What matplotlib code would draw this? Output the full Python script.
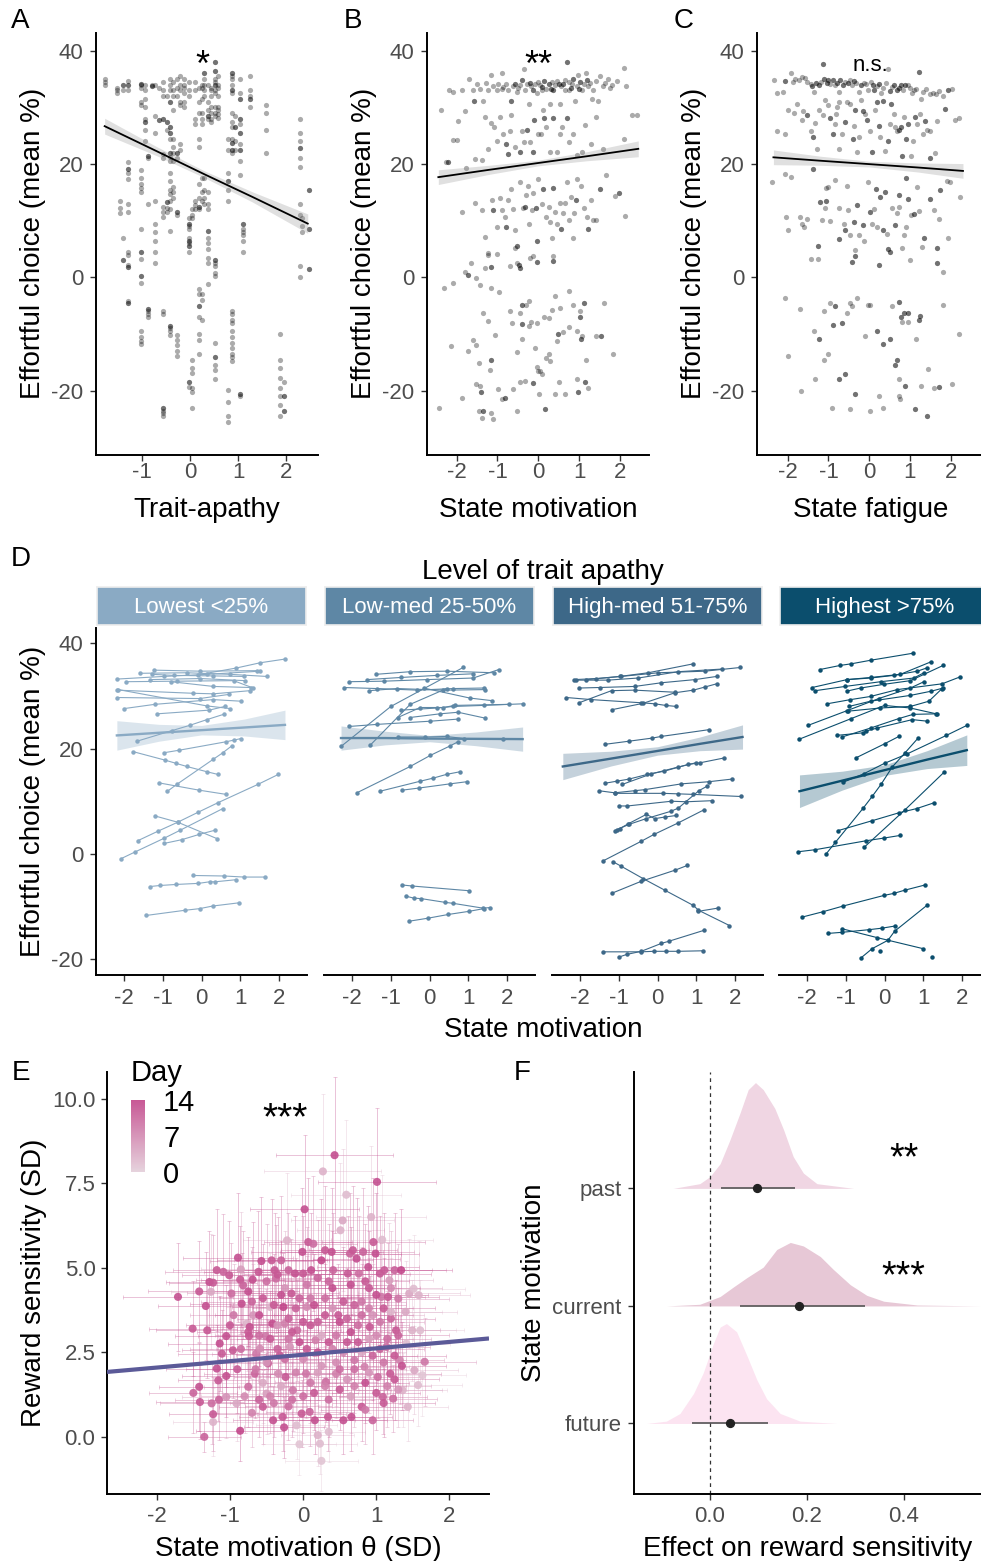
import matplotlib
matplotlib.use("Agg")
import matplotlib.pyplot as plt
import numpy as np
from matplotlib.colors import LinearSegmentedColormap

plt.rcParams['font.family'] = ['Liberation Sans', 'DejaVu Sans']
plt.rcParams['axes.unicode_minus'] = False

# ---------------- data ----------------
# A: effortful choice per participant column (trait apathy is fixed per person)
a_trait = [-1.78, -1.52, -1.45, -1.39, -1.29, -1.02, -0.93, -0.87, -0.80, -0.73, -0.64, -0.56, -0.49,
           -0.42, -0.35, -0.27, -0.21, -0.13, -0.03, 0.03, 0.10, 0.18, 0.24, 0.29, 0.38, 0.44, 0.52,
           0.59, 0.78, 0.87, 0.94, 1.03, 1.10, 1.24, 1.58, 1.88, 1.96, 2.29, 2.34, 2.48]
a_choice = [
    [35, 34.5, 34],
    [33.5, 33, 32.5],
    [13.5, 12.3, 11.3],
    [34, 34, 33, 7.0, 3.0, 3.0],
    [34.7, 34, 34, 33, 20.3, 19.2, 19.2, 18.4, 17.4, 13, 11.5, 4.5, 3.9, 2.2, 1.8, 1.8, -4.2, -4.5, -4.5],
    [34.2, 34.2, 34, 33.5, 31, 30.5, 19, 17.5, 16.5, 15.8, 15, 8.5, 4.4, 4.4, 3.3, 0.3, 0.3, -1.0,
     -9.5, -10.5, -11.3, -11.8],
    [34, 33, 31.5, 30, 28, 27.5, 27.5, 26, 24],
    [21.5, 21.5, 21, 13, -5.5, -5.5, -6, -6.5, -7],
    [34, 33.8, 33.8],
    [34, 28.5, 25.5, 13.5, 9.5, 8, 6.5, 4.5, 2.5],
    [33.5, 27.8, 27.8],
    [34.5, 33, 32, 28, 28, 21.8, 21, 12.5, 11.5, 10.7, -6, -6.5, -23, -23, -23.5, -24, -24.5],
    [32, 27.5, 27.5, 26, 13.3, 13.3, 12.3, 11.5],
    [35, 34, 33, 31, 31, 26.5, 26.5, 25.5, 25.5, 24.5, 22, 22, 21.2, 20.5, 18.5, 17, 15.5, 14.8,
     13.5, 12, 8.2, -8.5, -8.5, -9, -9.5, -10.2],
    [34.5, 33, 32, 29.5, 24.5, 23, 22, 20.5, 16, 15, 14],
    [35, 33.5, 32, 22, 22, 21, 11.5, 11.5, 11, -10.2, -11, -12, -13, -13.8],
    [35.5, 34, 33, 31, 30.5, 23.5, 22.5],
    [35, 34, 33.5, 32.5, 31, 30],
    [34.5, 33, 32, 10.5, 9.5, 9.5, 9, 8.5, 7, 6.5, 6.5, 6, 5.5, 5.5, 4.5, -18.5, -18.5, -19.4],
    [12, 11, 10.5, -14.5, -16, -16.8, -19.5, -20.3, -23],
    [34.5, 33, 28, 27, 13.5, 12.7, 12],
    [33.5, 31, 29, 24.5, 23, 16.5, 14, 12.5, 12.5, 12, -2, -3, -5, -5, -7, -10, -11, -13.5],
    [34, 33.5, 31.5, 29, 28, 27, 17.5, 15, 13.5, -3, -4, -7.5],
    [36, 36, 35, 34, 33, 32, 17.5, 15.5, 14, 13],
    [34, 31, 29.5, 28.5, 28.5, 28, 15, 13, 12, 8.2, 8.2, 7, 6, 5, 3.5, 2.5, -1.2],
    [33.5, 33, 32, 30, 29, 28, 27.5],
    [38, 38, 36.5, 36.5, 35, 34.5, 34, 34, 33, 32.5, 30, 29, 28.5, 3, 3, 2.5, 2, 0.8, 0.2, -11.5,
     -14, -14, -15.5, -16.3, -18],
    [35.5, 34, 33.5, 32, 30, 29.5, 28.8, 28.2],
    [24.5, 22.5, 18.5, 17, 17, 15.5, 13.5, -19.8, -22, -24.5, -25.5],
    [36, 36, 35.5, 35, 34, 33, 33, 32.5, 29, 27.5, 26.5, 24.5, 23.8, 23.8, 22.5, 22.5, 22, -6, -6.5,
     -7.5, -8, -9.5, -10.5, -11.5, -12.5, -13.5, -14, -14.8],
    [28.5, 26.5, 26.5, 24, 22.5],
    [35, 32.5, 31.5, 31.5, 28, 28, 27, 25.5, 25.5, 23.5, 22.5, 22.5, 20.5, 18, -20.5, -20.5, -21],
    [9.5, 9.5, 8.5, 8, 7.5, 6.5, 4.5],
    [35.5, 33, 32, 31.5, 31.5, 30],
    [30.5, 29, 26, 22],
    [-10, -14.5, -16, -17.8, -19.5, -21, -22.5, -24.5],
    [-18.5, -21, -21, -23.5, -23.5],
    [28, 25.5, 24, 22.8, 22.8, 21, 19.5, 13, 11, 2, 0],
    [10.5, 9, 8],
    [15.5, 15.5, 8.5, 8.5, 1.5, 1.5],
]

# B: (state motivation, effortful choice, overlapping obs)
b_points = [
    (-2.38, 29.6, 1), (-2.19, 33.0, 1), (-2.10, 32.7, 1), (-1.98, 27.6, 1), (-1.86, 33.0, 1),
    (-1.79, 29.4, 1), (-1.70, 35.1, 1), (-1.60, 33.0, 1), (-1.57, 31.1, 2), (-1.50, 34.1, 1),
    (-1.43, 33.2, 1), (-1.35, 31.1, 1), (-1.27, 34.4, 1), (-1.23, 33.0, 1), (-1.15, 35.7, 1),
    (-1.11, 33.8, 1), (-1.02, 33.0, 1), (-0.98, 34.1, 1), (-0.90, 36.1, 1), (-0.86, 33.7, 1),
    (-0.78, 34.1, 1), (-0.74, 33.0, 1), (-0.66, 31.1, 2), (-0.61, 33.8, 1), (-0.57, 34.1, 2),
    (-0.53, 32.7, 1), (-0.45, 33.9, 1), (-0.41, 34.9, 2), (-0.35, 36.8, 1), (-0.33, 33.0, 1),
    (-0.27, 34.1, 1), (-0.22, 30.7, 1), (-0.19, 33.8, 1), (-0.12, 33.0, 2), (-0.08, 34.1, 1),
    (-0.02, 32.6, 1), (0.00, 34.5, 1), (0.04, 33.9, 1), (0.08, 33.0, 1), (0.14, 34.6, 2),
    (0.19, 33.3, 1), (0.25, 34.1, 2), (0.29, 30.7, 1), (0.33, 34.5, 1), (0.37, 33.0, 2),
    (0.41, 33.9, 1), (0.47, 34.6, 1), (0.52, 30.7, 1), (0.55, 33.8, 1), (0.61, 34.1, 2),
    (0.66, 33.0, 1), (0.70, 38.0, 2), (0.74, 34.5, 1), (0.76, 33.0, 1), (0.82, 34.1, 1),
    (0.86, 35.0, 2), (0.90, 31.1, 1), (0.94, 33.8, 1), (0.98, 35.8, 1), (1.02, 34.5, 2),
    (1.06, 33.0, 1), (1.11, 34.1, 1), (1.17, 36.1, 1), (1.23, 33.8, 1), (1.27, 34.4, 1),
    (1.31, 31.5, 1), (1.35, 33.0, 1), (1.42, 34.6, 1), (1.47, 31.1, 1), (1.52, 35.5, 1),
    (1.58, 33.8, 1), (1.64, 34.3, 1), (1.70, 35.0, 1), (1.76, 33.5, 1), (1.80, 33.9, 1),
    (1.92, 34.6, 1), (2.10, 36.9, 1), (2.15, 33.8, 1), (2.42, 28.6, 1),
    (-0.20, 34.3, 2), (0.10, 33.6, 2), (0.50, 34.2, 2), (0.80, 33.5, 2), (1.00, 33.2, 2),
    (-0.50, 33.4, 1), (-0.90, 33.2, 1), (1.20, 34.8, 2), (0.30, 33.3, 2), (0.65, 34.8, 1),
    (-2.21, 20.4, 2), (-2.10, 24.2, 1), (-1.99, 24.3, 1), (-1.76, 19.4, 1), (-1.56, 20.9, 1),
    (-1.39, 20.7, 1), (-1.31, 28.3, 1), (-1.23, 22.7, 1), (-1.16, 27.2, 1), (-1.08, 26.6, 1),
    (-1.01, 24.1, 1), (-0.94, 28.3, 1), (-0.86, 25.4, 1), (-0.78, 23.5, 2), (-0.74, 21.7, 2),
    (-0.70, 25.9, 1), (-0.66, 28.6, 1), (-0.57, 23.0, 1), (-0.45, 22.1, 2), (-0.41, 25.8, 1),
    (-0.35, 23.9, 1), (-0.27, 26.1, 2), (-0.20, 23.9, 1), (-0.14, 22.2, 2), (-0.11, 27.8, 2),
    (0.00, 25.4, 1), (0.06, 25.4, 1), (0.11, 29.5, 1), (0.14, 28.1, 2), (0.20, 26.5, 1),
    (0.29, 22.2, 1), (0.37, 28.1, 2), (0.45, 22.2, 1), (0.52, 25.4, 1), (0.57, 26.5, 1),
    (0.70, 28.1, 2), (0.74, 23.9, 1), (0.86, 25.3, 1), (0.94, 21.6, 1), (1.06, 22.2, 1),
    (1.15, 26.9, 1), (1.29, 23.6, 1), (1.42, 28.3, 1), (1.58, 22.6, 1), (2.09, 24.4, 1),
    (2.29, 28.6, 1),
    (-2.27, 20.3, 1), (-1.88, 11.5, 1), (-1.54, 13.2, 1), (-1.39, 11.9, 1), (-1.31, 7.2, 1),
    (-1.23, 4.3, 1), (-1.13, 13.7, 1), (-1.11, 11.9, 2), (-1.02, 8.9, 1), (-0.94, 14.0, 1),
    (-0.90, 11.9, 1), (-0.82, 10.7, 1), (-0.78, 8.9, 2), (-0.74, 13.6, 1), (-0.66, 15.6, 1),
    (-0.61, 12.0, 1), (-0.57, 8.4, 1), (-0.53, 5.5, 2), (-0.45, 16.8, 1), (-0.37, 12.3, 1),
    (-0.33, 12.5, 2), (-0.29, 14.5, 1), (-0.25, 16.2, 1), (-0.22, 9.5, 1), (-0.16, 11.9, 1),
    (-0.12, 14.9, 1), (-0.06, 12.3, 2), (-0.04, 6.4, 2), (0.00, 17.4, 1), (0.08, 13.0, 1),
    (0.12, 15.6, 2), (0.19, 10.7, 1), (0.25, 12.5, 1), (0.29, 9.8, 1), (0.33, 7.0, 1),
    (0.37, 15.7, 2), (0.41, 11.6, 1), (0.47, 9.5, 1), (0.52, 13.1, 1), (0.55, 8.6, 2),
    (0.60, 11.3, 1), (0.66, 13.1, 1), (0.70, 16.8, 1), (0.74, 10.1, 1), (0.79, 14.2, 1),
    (0.84, 7.0, 1), (0.88, 11.3, 1), (0.93, 13.7, 2), (0.96, 17.4, 1), (1.04, 16.2, 1),
    (1.11, 12.2, 1), (1.19, 10.7, 1), (1.23, 8.6, 2), (1.29, 13.6, 1), (1.35, 10.1, 1),
    (1.42, 10.1, 1), (1.50, 15.6, 2), (1.66, 18.1, 1), (1.88, 14.3, 1), (1.97, 14.9, 2),
    (2.13, 10.8, 1),
    (-2.32, -1.8, 1), (-2.10, -1.0, 1), (-1.80, 0.9, 1), (-1.72, 0.4, 2), (-1.64, 2.5, 1),
    (-1.52, -0.1, 1), (-1.43, -1.3, 1), (-1.31, 1.6, 1), (-1.23, 4.0, 1), (-1.17, 1.9, 2),
    (-1.15, -1.8, 1), (-1.02, 4.1, 1), (-0.97, -2.6, 1), (-0.70, 2.1, 1), (-0.57, 5.2, 1),
    (-0.51, 2.6, 1), (-0.47, 2.2, 2), (-0.45, 1.6, 2), (-0.20, 3.5, 1), (-0.12, 3.7, 1),
    (-0.04, 2.8, 2), (0.37, 2.9, 2), (0.37, 3.7, 1),
    (-2.44, -23.0, 1), (-2.15, -12.1, 1), (-1.88, -21.2, 1), (-1.60, -11.1, 1), (-1.52, -11.9, 1),
    (-1.45, -15.1, 1), (-1.45, -23.6, 1), (-1.43, -19.1, 1), (-1.40, -20.3, 2), (-1.38, -24.8, 1),
    (-1.35, -6.3, 1), (-1.35, -23.6, 2), (-1.23, -7.7, 1), (-1.17, -14.5, 2), (-1.17, -23.9, 1),
    (-1.12, -25.0, 1), (-1.06, -10.1, 1), (-0.98, -19.7, 1), (-0.90, -21.5, 1), (-0.82, -21.2, 2),
    (-0.70, -6.0, 1), (-0.64, -8.1, 1), (-0.61, -19.7, 1), (-0.53, -13.1, 1), (-0.53, -23.6, 1),
    (-0.45, -6.2, 1), (-0.45, -18.5, 1), (-0.41, -4.8, 2), (-0.41, -8.3, 2), (-0.41, -10.9, 1),
    (-0.33, -18.2, 1), (-0.29, -4.8, 1), (-0.22, -4.2, 1), (-0.22, -8.6, 1), (-0.18, -7.8, 1),
    (-0.12, -18.6, 2), (-0.08, -12.5, 1), (-0.04, -8.0, 1), (-0.02, -15.9, 1), (0.00, -16.5, 1),
    (0.02, -20.6, 1), (0.04, -16.6, 1), (0.08, -17.0, 1), (0.14, -7.0, 1), (0.16, -23.2, 2),
    (0.20, -14.2, 1), (0.25, -7.2, 1), (0.27, -13.6, 1), (0.29, -14.8, 1), (0.33, -5.7, 1),
    (0.41, -20.6, 1), (0.41, -3.3, 1), (0.47, -11.2, 1), (0.49, -10.0, 2), (0.50, -18.5, 1),
    (0.53, -5.4, 1), (0.61, -9.7, 1), (0.66, -20.6, 1), (0.74, -8.7, 1), (0.76, -2.4, 1),
    (0.86, -4.8, 1), (0.94, -9.4, 1), (0.96, -17.9, 1), (0.98, -20.3, 2), (1.01, -6.0, 1),
    (1.02, -7.0, 2), (1.04, -10.9, 2), (1.06, -10.3, 1), (1.11, -4.5, 2), (1.15, -18.5, 2),
    (1.17, -14.5, 1), (1.23, -19.6, 1), (1.42, -10.3, 1), (1.53, -10.3, 2), (1.61, -4.5, 1),
    (1.83, -13.6, 1), (-1.72, -13.0, 1), (-1.52, -18.8, 1), (-1.19, -16.3, 1),
]

# C: (state fatigue, effortful choice, overlapping obs)
c_points = [
    (-2.33, 34.8, 1), (-2.26, 32.6, 1), (-2.11, 32.7, 1), (-2.06, 34.6, 2), (-1.93, 36.1, 1),
    (-1.87, 34.5, 1), (-1.81, 35.1, 1), (-1.73, 34.9, 1), (-1.65, 35.4, 1), (-1.58, 35.2, 1),
    (-1.53, 34.5, 1), (-1.44, 34.1, 1), (-1.40, 33.8, 2), (-1.36, 32.8, 1), (-1.31, 34.4, 2),
    (-1.24, 34.0, 2), (-1.18, 34.5, 1), (-1.13, 37.7, 2), (-1.10, 35.1, 2), (-1.04, 34.4, 2),
    (-1.00, 34.9, 2), (-0.96, 34.1, 1), (-0.89, 34.8, 2), (-0.83, 33.9, 1), (-0.79, 34.4, 2),
    (-0.75, 32.8, 1), (-0.71, 34.9, 2), (-0.64, 34.0, 2), (-0.59, 34.5, 1), (-0.53, 34.4, 2),
    (-0.48, 34.9, 1), (-0.42, 34.0, 1), (-0.37, 34.6, 2), (-0.32, 34.4, 1), (-0.26, 32.7, 1),
    (-0.20, 33.9, 2), (-0.14, 34.4, 1), (-0.07, 34.1, 1), (-0.02, 33.0, 1), (0.04, 34.5, 1),
    (0.09, 33.9, 2), (0.12, 33.0, 2), (0.19, 33.8, 1), (0.25, 34.1, 2), (0.29, 32.6, 1),
    (0.35, 33.4, 1), (0.42, 34.4, 1), (0.45, 36.8, 1), (0.50, 32.9, 2), (0.56, 33.7, 1),
    (0.61, 34.0, 2), (0.68, 33.0, 2), (0.72, 33.4, 2), (0.78, 33.9, 2), (0.84, 33.0, 1),
    (0.88, 33.9, 2), (0.94, 34.0, 1), (1.00, 33.4, 1), (1.06, 32.6, 1), (1.09, 33.0, 1),
    (1.15, 33.3, 1), (1.23, 36.2, 2), (1.27, 31.5, 1), (1.33, 32.7, 1), (1.40, 33.3, 1),
    (1.48, 32.4, 1), (1.56, 32.6, 1), (1.64, 32.4, 1), (1.70, 32.9, 1), (1.82, 32.0, 1),
    (1.94, 33.0, 2), (2.02, 33.3, 1),
    (-2.26, 25.8, 1), (-2.06, 25.3, 1), (-2.00, 29.5, 1), (-1.84, 29.0, 1), (-1.77, 30.7, 1),
    (-1.65, 27.8, 1), (-1.62, 29.4, 1), (-1.53, 28.7, 2), (-1.44, 25.9, 1), (-1.38, 24.8, 2),
    (-1.34, 27.2, 1), (-1.28, 22.6, 1), (-1.22, 29.6, 1), (-1.13, 28.6, 1), (-1.08, 31.3, 1),
    (-1.02, 30.4, 1), (-0.96, 28.2, 2), (-0.89, 25.3, 2), (-0.85, 27.1, 1), (-0.82, 28.9, 1),
    (-0.79, 30.1, 1), (-0.75, 31.0, 1), (-0.73, 22.6, 1), (-0.67, 25.3, 1), (-0.59, 27.5, 2),
    (-0.55, 30.9, 1), (-0.47, 30.6, 1), (-0.40, 24.5, 2), (-0.37, 26.7, 1), (-0.34, 29.5, 2),
    (-0.30, 22.2, 1), (-0.24, 24.7, 1), (-0.20, 31.3, 1), (-0.16, 29.4, 2), (-0.10, 28.9, 1),
    (-0.06, 27.8, 2), (0.02, 25.9, 1), (0.07, 22.1, 2), (0.15, 29.5, 1), (0.19, 31.0, 2),
    (0.23, 26.7, 2), (0.27, 24.7, 1), (0.33, 31.1, 2), (0.39, 22.4, 1), (0.47, 24.1, 2),
    (0.50, 27.1, 1), (0.53, 30.7, 2), (0.60, 28.8, 1), (0.64, 26.5, 1), (0.69, 25.9, 1),
    (0.74, 26.0, 2), (0.78, 26.5, 2), (0.80, 21.5, 2), (0.86, 28.3, 1), (0.91, 24.5, 2),
    (0.96, 27.1, 2), (1.02, 21.4, 1), (1.07, 24.1, 1), (1.13, 28.3, 2), (1.17, 27.0, 1),
    (1.25, 28.8, 1), (1.31, 25.3, 1), (1.36, 27.7, 2), (1.41, 26.0, 1), (1.48, 21.1, 2),
    (1.49, 25.9, 1), (1.62, 21.9, 1), (1.66, 27.7, 1), (1.86, 29.8, 2), (2.11, 27.8, 1),
    (2.19, 28.2, 1), (1.90, 17.0, 1),
    (-2.38, 16.9, 1), (-2.06, 18.3, 1), (-2.03, 10.7, 1), (-1.98, 8.3, 1), (-1.93, 17.7, 1),
    (-1.69, 10.7, 1), (-1.65, 9.5, 1), (-1.61, 8.9, 1), (-1.53, 10.4, 1), (-1.43, 3.3, 1),
    (-1.38, 19.2, 2), (-1.26, 3.3, 1), (-1.26, 5.5, 2), (-1.20, 13.4, 2), (-1.16, 10.1, 1),
    (-1.09, 12.3, 1), (-1.06, 13.5, 2), (-1.05, 15.7, 1), (-1.00, 15.9, 1), (-0.96, 10.0, 1),
    (-0.83, 17.2, 1), (-0.75, 12.2, 1), (-0.73, 6.7, 2), (-0.63, 9.5, 1), (-0.60, 8.4, 2),
    (-0.55, 16.2, 1), (-0.51, 11.9, 1), (-0.47, 7.4, 1), (-0.42, 2.7, 2), (-0.37, 9.8, 2),
    (-0.34, 3.7, 2), (-0.34, 4.9, 1), (-0.30, 12.8, 2), (-0.24, 7.4, 1), (-0.16, 9.3, 2),
    (-0.14, 6.4, 1), (-0.02, 16.8, 1), (0.02, 11.6, 2), (0.07, 9.5, 1), (0.12, 12.0, 1),
    (0.17, 15.6, 2), (0.19, 8.9, 1), (0.23, 2.2, 2), (0.27, 14.2, 2), (0.33, 8.4, 2),
    (0.39, 15.1, 2), (0.43, 7.7, 1), (0.47, 5.1, 2), (0.51, 4.5, 2), (0.56, 12.2, 1),
    (0.64, 9.2, 2), (0.68, 11.3, 1), (0.72, 14.6, 2), (0.74, 12.5, 1), (0.80, 5.2, 1),
    (0.86, 7.4, 1), (0.91, 17.6, 2), (0.91, 8.9, 1), (0.96, 13.9, 2), (1.00, 3.1, 1),
    (1.03, 11.0, 1), (1.11, 11.2, 2), (1.17, 15.9, 1), (1.23, 11.8, 1), (1.29, 5.3, 1),
    (1.35, 7.0, 2), (1.48, 13.9, 2), (1.66, 5.2, 2), (1.67, 2.5, 2), (1.70, 10.3, 1),
    (1.74, 15.4, 2), (1.82, 1.0, 1), (1.98, 16.8, 1), (2.23, 14.2, 1), (1.58, 11.9, 1),
    (1.94, 7.0, 1),
    (-2.06, -3.6, 1), (-1.98, -13.9, 1), (-1.71, -5.6, 1), (-1.67, -20.0, 1), (-1.36, -9.5, 1),
    (-1.32, -17.9, 1), (-1.24, -10.9, 2), (-1.12, -14.5, 1), (-1.12, -6.0, 1), (-1.02, -13.6, 1),
    (-0.96, -4.5, 1), (-0.91, -23.1, 1), (-0.89, -8.4, 2), (-0.83, -5.0, 2), (-0.75, -17.9, 2),
    (-0.67, -8.1, 2), (-0.60, -17.1, 2), (-0.55, -6.2, 1), (-0.48, -4.6, 1), (-0.47, -23.3, 1),
    (-0.42, -5.0, 1), (-0.34, -20.6, 2), (-0.29, -3.6, 1), (-0.10, -10.3, 1), (0.02, -4.8, 1),
    (0.02, -23.6, 1), (0.20, -9.4, 2), (0.23, -20.9, 1), (0.35, -23.0, 1), (0.33, -11.8, 2),
    (0.51, -10.8, 2), (0.56, -5.1, 1), (0.64, -15.4, 2), (0.68, -14.5, 2), (0.72, -17.9, 1),
    (0.72, -20.9, 1), (0.76, -21.5, 1), (0.78, -7.0, 2), (0.74, -4.4, 2), (0.80, -7.8, 1),
    (0.86, -6.2, 2), (0.88, -19.1, 2), (0.94, -7.8, 1), (0.96, -6.3, 2), (1.13, -23.3, 2),
    (1.15, -10.9, 1), (1.21, -7.5, 2), (1.25, -6.8, 2), (1.27, -19.1, 1), (1.41, -24.5, 2),
    (1.45, -16.2, 1), (1.58, -19.6, 1), (1.70, -19.4, 2), (1.82, -4.8, 1), (2.02, -18.8, 1),
    (2.21, -10.0, 1), (-0.04, -4.8, 1),
]

# regression lines with confidence band (x, fitted y, half width)
a_fit = ([-1.78, -0.7, 0.3, 1.3, 2.45], [26.7, 22.3, 18.2, 14.2, 9.5], [1.4, 0.8, 0.6, 0.9, 1.7])
b_fit = ([-2.45, -1.2, 0.0, 1.2, 2.45], [17.7, 19.0, 20.2, 21.4, 22.7], [1.3, 0.8, 0.5, 0.8, 1.4])
c_fit = ([-2.35, -1.2, 0.0, 1.2, 2.3], [21.2, 20.6, 20.0, 19.4, 18.8], [1.3, 0.8, 0.5, 0.8, 1.3])

# D: per-participant (state motivation, effortful choice) by trait-apathy group
d_labels = ['Lowest <25%', 'Low-med 25-50%', 'High-med 51-75%', 'Highest >75%']
d_colors = ['#8AAAC4', '#5E87A5', '#3D6888', '#0B4E6D']
d_lowest = [
    [(-0.10, 34.0), (0.90, 35.3), (1.52, 36.3), (2.16, 37.0)],
    [(-2.19, 33.2), (-0.98, 33.7), (0.14, 34.1), (1.52, 34.7)],
    [(-1.58, 34.3), (-0.38, 34.4), (0.74, 34.1), (1.69, 33.7)],
    [(-1.24, 34.9), (-0.03, 34.7), (1.43, 34.8)],
    [(-1.95, 32.7), (-0.64, 32.8), (0.83, 32.9), (1.34, 31.5)],
    [(-2.19, 31.1), (-0.21, 30.5), (0.31, 30.4), (1.26, 31.0)],
    [(-2.19, 29.7), (-0.05, 29.5), (0.72, 30.3)],
    [(-2.15, 31.2), (0.14, 28.1), (0.74, 27.6)],
    [(-2.00, 27.6), (-1.21, 28.4), (0.30, 29.3), (1.02, 29.0)],
    [(-1.67, 21.4), (-0.77, 23.4), (-0.31, 24.4), (0.14, 25.5), (0.57, 26.5)],
    [(-1.15, 26.6), (0.20, 27.3), (0.60, 28.0)],
    [(-0.98, 19.2), (-0.57, 19.7), (0.64, 21.3), (0.83, 21.6), (1.02, 21.9)],
    [(-1.76, 19.4), (-0.94, 17.8), (-0.66, 17.2), (-0.38, 16.6), (0.14, 15.6), (0.42, 15.1)],
    [(-0.88, 11.9), (-0.64, 13.2), (0.31, 18.0), (0.55, 19.2), (0.78, 20.5)],
    [(-1.11, 13.5), (-0.06, 12.1), (0.64, 11.3)],
    [(-1.20, 7.2), (-0.61, 6.0), (0.40, 2.9)],
    [(-0.96, 2.0), (-0.51, 2.7), (-0.06, 3.7), (0.35, 4.5)],
    [(-2.08, -0.9), (-1.71, 0.4), (-0.96, 3.0), (-0.55, 4.5), (0.55, 8.6)],
    [(-1.65, 2.5), (-1.13, 4.3), (-0.62, 6.0), (-0.09, 7.9), (0.42, 9.7), (1.46, 13.2), (1.99, 15.1)],
    [(-0.21, -4.1), (0.59, -4.2), (1.10, -4.4), (1.64, -4.4)],
    [(-1.34, -6.2), (-1.07, -6.0), (-0.65, -5.8), (-0.08, -5.6), (0.21, -5.3), (0.35, -5.3), (0.90, -4.9)],
    [(-1.44, -11.7), (-0.42, -10.7), (-0.05, -10.4), (0.29, -9.9), (0.96, -9.3)],
    [(-1.28, 34.1), (-0.72, 33.9), (0.31, 33.8), (1.09, 33.7)],
    [(-1.33, 33.1), (-0.03, 33.3), (1.13, 32.9)],
    [(-0.79, 32.7), (0.31, 31.8), (1.27, 31.6)],
]
d_lowmed = [
    [(-2.29, 20.4), (-1.00, 28.0), (0.87, 35.4)],
    [(-1.54, 20.6), (-0.50, 28.4), (0.44, 31.4)],
    [(-2.08, 32.7), (-1.18, 32.8), (-0.07, 33.1), (1.13, 33.4), (1.79, 35.0)],
    [(-2.22, 31.6), (-1.35, 31.4), (-0.32, 31.1), (0.62, 31.4), (1.40, 31.5)],
    [(-1.56, 31.0), (-0.84, 31.4), (0.36, 31.1), (1.43, 31.2)],
    [(-1.39, 34.1), (-0.50, 34.6), (0.44, 34.7), (1.66, 34.4)],
    [(-1.61, 33.1), (-0.75, 33.5), (0.19, 33.9), (1.13, 34.2)],
    [(-0.15, 31.5), (1.04, 29.6), (1.62, 29.1)],
    [(-0.74, 27.3), (0.19, 27.7), (0.62, 28.0), (1.40, 28.2), (2.41, 28.5)],
    [(-0.82, 25.9), (-0.24, 27.8), (0.36, 27.8), (0.65, 28.2), (2.05, 28.4)],
    [(-0.51, 25.9), (0.27, 26.6), (0.74, 26.9), (1.43, 25.8)],
    [(-2.08, 24.2), (-1.35, 24.6), (0.02, 25.2), (0.74, 25.6)],
    [(-0.82, 22.2), (-0.11, 22.2), (0.44, 22.3), (0.89, 21.9), (1.91, 21.9)],
    [(-1.88, 11.6), (-0.50, 16.6), (0.02, 18.7), (0.53, 20.5), (0.74, 21.3)],
    [(-1.28, 11.9), (-0.24, 13.8), (0.10, 14.4), (0.44, 15.1), (0.79, 15.6)],
    [(-0.71, 12.1), (-0.28, 12.5), (0.53, 13.3), (0.96, 13.7)],
    [(-0.71, -5.9), (-0.45, -6.1), (1.03, -7.0)],
    [(-0.62, -8.0), (-0.41, -8.4), (-0.21, -8.5), (0.40, -9.2), (0.62, -9.4), (1.38, -10.3), (1.56, -10.2)],
    [(-0.54, -12.8), (-0.03, -12.2), (0.49, -11.5), (1.03, -10.9), (1.40, -10.4)],
]
d_highmed = [
    [(-2.15, 33.1), (-1.58, 33.3), (-0.98, 33.7), (-0.24, 34.4), (0.93, 36.1)],
    [(-2.10, 33.0), (-1.28, 33.0), (-0.50, 33.4), (0.54, 34.6), (1.66, 35.1)],
    [(-2.02, 31.5), (-1.50, 31.6), (-0.59, 31.8), (0.10, 32.5), (0.97, 33.1), (1.53, 33.7)],
    [(-2.36, 29.7), (-1.71, 29.3), (-0.42, 28.7), (-0.07, 28.5), (0.21, 28.2), (0.49, 28.0)],
    [(-1.17, 27.4), (-0.37, 28.6), (0.45, 30.6), (0.93, 31.1), (1.23, 31.7), (1.53, 32.3)],
    [(-2.03, 28.7), (-1.19, 31.0), (-0.59, 31.1), (0.45, 30.7)],
    [(-1.84, 33.1), (-0.94, 33.7), (0.02, 34.4), (1.23, 34.7), (2.14, 35.4)],
    [(-1.37, 20.8), (-0.74, 21.4), (-0.13, 22.0), (0.09, 22.3), (1.34, 23.6)],
    [(-1.37, 13.4), (-1.06, 13.8), (-0.74, 14.2), (-0.26, 15.1), (0.17, 15.7), (0.80, 17.0), (1.10, 17.3), (1.71, 18.2)],
    [(-0.91, 13.2), (-0.16, 15.2), (0.54, 16.5), (0.99, 17.3)],
    [(-1.52, 12.0), (-1.11, 11.6), (-0.59, 12.0), (-0.33, 12.2), (0.62, 13.3), (1.32, 13.7), (1.92, 14.2)],
    [(-1.11, 11.5), (0.15, 11.5), (0.54, 11.4), (0.93, 11.3), (2.16, 10.9)],
    [(-1.00, 9.1), (-0.78, 9.1), (0.36, 10.0), (0.75, 9.9), (1.40, 10.1)],
    [(-1.09, 4.4), (-0.98, 4.8), (-0.76, 5.7), (-0.29, 7.5), (-0.07, 6.7), (0.19, 7.0), (0.49, 7.3)],
    [(-1.05, 4.6), (-0.74, 5.6), (-0.29, 6.7), (0.35, 8.1), (0.54, 8.7), (1.07, 12.0), (1.27, 12.8)],
    [(-1.40, -1.3), (-0.42, 2.4), (-0.09, 3.7), (0.54, 5.9), (1.21, 8.4)],
    [(-1.15, -1.5), (-0.95, -2.3), (-0.37, -4.7), (0.19, -6.9), (0.93, -9.8), (1.06, -10.7), (1.86, -13.6)],
    [(-1.19, -7.5), (-0.42, -5.2), (0.45, -3.1), (0.77, -2.2)],
    [(1.06, -10.9), (1.56, -10.3)],
    [(-1.40, -18.6), (-0.42, -18.6), (-0.10, -18.5), (0.22, -18.5), (0.54, -18.5), (1.19, -18.4)],
    [(-1.00, -19.6), (-0.80, -19.1), (-0.42, -18.5), (0.10, -17.0), (0.29, -16.6), (1.21, -14.5)],
]
d_highest = [
    [(-1.68, 35.0), (-1.14, 35.8), (-0.86, 36.1), (-0.34, 36.8), (0.73, 38.1)],
    [(-1.87, 31.6), (-0.97, 33.1), (-0.36, 33.5), (0.41, 34.1), (1.21, 36.5)],
    [(-1.79, 31.0), (-1.02, 31.8), (-0.10, 32.7), (0.76, 33.4), (1.02, 34.4)],
    [(-0.98, 30.9), (-0.62, 31.5), (-0.02, 32.2), (0.67, 32.9), (1.52, 35.8)],
    [(-0.97, 33.1), (-0.36, 33.4), (0.24, 33.9), (0.85, 34.7), (1.09, 35.3)],
    [(-1.49, 28.5), (-0.88, 29.3), (-0.36, 29.9), (0.33, 31.2), (1.49, 32.3), (1.95, 33.6)],
    [(-0.92, 28.0), (-0.36, 29.0), (0.67, 30.1), (1.21, 30.9), (1.52, 31.5)],
    [(-0.95, 27.1), (-0.12, 27.7), (0.67, 28.0), (1.15, 29.0), (1.49, 31.4)],
    [(-1.98, 24.4), (-0.97, 27.2), (-0.15, 29.5), (0.67, 31.5), (1.02, 32.7)],
    [(-2.20, 21.8), (-0.86, 25.7), (0.00, 28.2), (0.67, 27.7), (1.34, 26.6)],
    [(-1.24, 22.5), (-0.55, 23.0), (-0.49, 23.3), (-0.19, 23.9), (0.72, 25.5), (1.11, 25.2)],
    [(-1.10, 22.2), (-0.36, 23.9), (0.37, 25.7), (0.74, 26.5), (1.35, 26.6)],
    [(-0.75, 18.2), (0.00, 20.9), (0.37, 22.3)],
    [(-1.07, 13.6), (-0.54, 15.2), (0.00, 17.2), (0.59, 19.0), (1.60, 22.5), (2.13, 24.4)],
    [(-1.51, 0.0), (-1.27, 2.2), (-0.55, 8.7), (-0.32, 10.9), (-0.09, 13.2), (0.20, 16.5), (0.52, 19.1), (0.87, 22.0)],
    [(-1.21, 4.4), (-0.32, 6.3), (0.37, 7.8), (0.83, 8.6), (1.28, 9.7)],
    [(-2.24, 0.4), (-1.79, 0.8), (-0.47, 2.5), (-0.02, 3.0), (0.40, 3.5)],
    [(-0.52, 1.3), (0.52, 8.3), (1.54, 15.5)],
    [(-2.13, -12.0), (-1.60, -11.0), (-1.07, -9.9), (-0.02, -7.9), (0.24, -7.5), (0.52, -6.9), (1.05, -5.9)],
    [(-0.60, -19.7), (-0.32, -18.0), (0.09, -16.4), (0.26, -14.7), (1.11, -9.7)],
    [(-1.46, -15.1), (-1.11, -14.9), (-0.41, -14.4), (-0.06, -14.1), (0.27, -13.7)],
    [(-1.11, -14.2), (-0.19, -15.9), (1.00, -18.0)],
    [(-0.12, -18.5)],
    [(1.24, -19.6)],
]
d_groups = [d_lowest, d_lowmed, d_highmed, d_highest]
d_fits = [
    ([-2.19, -1.1, 0.0, 1.1, 2.16], [22.5, 23.0, 23.5, 24.0, 24.5], [2.8, 1.6, 0.9, 1.6, 2.8]),
    ([-2.29, -1.15, 0.0, 1.2, 2.41], [22.0, 22.0, 21.9, 21.85, 21.8], [2.3, 1.3, 0.6, 1.3, 2.3]),
    ([-2.45, -1.2, 0.0, 1.1, 2.2], [16.6, 18.1, 19.55, 20.9, 22.2], [2.5, 1.4, 0.8, 1.3, 2.3]),
    ([-2.2, -1.1, 0.0, 1.1, 2.13], [11.9, 13.9, 15.9, 17.9, 19.7], [3.1, 1.8, 1.0, 1.7, 2.9]),
]

# E: (state motivation theta, reward sensitivity, x err, y err, day)
e_points = [
    (-1.71, 4.14, 0.75, 1.6, 13), (-1.51, 3.20, 0.6, 1.4, 12), (-1.50, 1.30, 0.6, 1.2, 11),
    (-1.42, 4.30, 0.7, 1.5, 12), (-1.42, 1.48, 0.55, 1.3, 13), (-1.41, 1.03, 0.6, 1.1, 12),
    (-1.35, 0.00, 0.5, 0.45, 11), (-1.33, 3.87, 0.65, 1.6, 13), (-1.31, 3.15, 0.7, 1.4, 12),
    (-1.28, 4.58, 0.6, 1.5, 13), (-1.26, 4.29, 0.55, 1.7, 4), (-1.23, 4.56, 0.6, 1.4, 12),
    (-1.25, 0.99, 0.7, 1.2, 10), (-1.23, 0.67, 0.6, 1.1, 12), (-1.23, 0.44, 0.55, 1.0, 3),
    (-1.18, 4.93, 0.6, 1.8, 12), (-1.18, 2.02, 0.7, 1.3, 13), (-1.16, 1.67, 0.55, 1.2, 12),
    (-1.15, 1.10, 0.6, 1.2, 11), (-1.14, 2.76, 0.7, 1.4, 13), (-1.11, 2.46, 0.6, 1.3, 12),
    (-1.09, 4.88, 0.8, 1.7, 11), (-1.05, 1.18, 0.6, 1.2, 6), (-1.05, 2.98, 0.7, 1.5, 13),
    (-1.01, 4.78, 0.65, 1.6, 12), (-0.98, 4.24, 0.6, 1.5, 10), (-0.96, 2.56, 0.7, 1.4, 12),
    (-0.91, 0.99, 0.6, 1.1, 4), (-0.89, 5.30, 0.75, 1.9, 13), (-0.86, 0.18, 0.6, 0.9, 14),
    (-0.86, 4.65, 0.6, 1.6, 12), (-0.85, 4.95, 0.55, 1.7, 5), (-0.84, 3.94, 0.7, 1.5, 13),
    (-0.82, 4.48, 0.6, 1.6, 11), (-0.77, 3.35, 0.65, 1.4, 3), (-0.75, 1.48, 0.6, 1.2, 10),
    (-0.74, 2.98, 0.7, 1.4, 12), (-0.73, 3.25, 0.6, 1.5, 13), (-0.70, 0.71, 0.55, 1.0, 8),
    (-0.69, 4.65, 0.7, 1.7, 13), (-0.68, 3.60, 0.6, 1.5, 6), (-0.66, 1.87, 0.7, 1.3, 11),
    (-0.64, 2.46, 0.6, 1.4, 9), (-0.61, 4.88, 0.75, 1.8, 12), (-0.59, 2.61, 0.6, 1.3, 7),
    (-0.57, 5.20, 0.7, 1.9, 13), (-0.55, 0.89, 0.6, 1.1, 12), (-0.51, 2.98, 0.65, 1.4, 9),
    (-0.50, 1.28, 0.6, 1.2, 5), (-0.48, 2.17, 0.7, 1.3, 11), (-0.45, 3.84, 0.6, 1.6, 3),
    (-0.43, 5.22, 0.75, 1.8, 12), (-0.42, 3.35, 0.6, 1.5, 13), (-0.41, 0.49, 0.55, 1.0, 13),
    (-0.39, 4.93, 0.7, 1.7, 12), (-0.37, 4.68, 0.6, 1.6, 10), (-0.34, 1.87, 0.7, 1.3, 7),
    (-0.32, 2.41, 0.6, 1.4, 12), (-0.30, 5.22, 0.65, 1.9, 11), (-0.28, 0.59, 0.6, 1.0, 12),
    (-0.27, 3.84, 0.7, 1.6, 14), (-0.26, 0.28, 0.55, 0.9, 13), (-0.25, 3.35, 0.6, 1.5, 8),
    (-0.24, 1.77, 0.7, 1.2, 12), (-0.22, 5.81, 0.6, 2.0, 3), (-0.20, 4.93, 0.7, 1.7, 11),
    (-0.18, 2.66, 0.6, 1.4, 6), (-0.16, 4.24, 0.65, 1.6, 12), (-0.14, 1.38, 0.6, 1.2, 9),
    (-0.11, 4.83, 0.7, 1.7, 13), (-0.09, 0.34, 0.55, 1.0, 2), (-0.08, 3.15, 0.6, 1.5, 10),
    (-0.05, -0.22, 0.5, 0.9, 1), (-0.02, 0.69, 0.6, 1.0, 12), (-0.01, 5.47, 0.7, 1.9, 13),
    (0.00, 4.83, 0.6, 1.7, 12), (0.02, 6.73, 0.75, 2.2, 13), (0.04, 1.87, 0.6, 1.3, 9),
    (0.05, 3.84, 0.7, 1.5, 7), (0.07, 5.76, 0.6, 1.9, 12), (0.09, 0.74, 0.6, 1.0, 11),
    (0.11, 4.93, 0.7, 1.7, 13), (0.14, 5.71, 0.6, 2.0, 10), (0.16, 0.49, 0.55, 1.0, 13),
    (0.17, 2.86, 0.7, 1.4, 8), (0.20, 0.05, 0.5, 0.9, 3), (0.23, -0.20, 0.5, 0.9, 2),
    (0.25, -0.71, 0.5, 0.9, 1), (0.25, 5.22, 0.7, 1.8, 14), (0.27, 7.85, 0.8, 2.3, 3),
    (0.30, 5.52, 0.6, 1.9, 12), (0.31, 1.63, 0.7, 1.2, 10), (0.34, 0.59, 0.6, 1.0, 12),
    (0.35, 0.15, 0.5, 0.9, 2), (0.39, 5.47, 0.7, 1.9, 13), (0.41, 4.93, 0.6, 1.7, 11),
    (0.43, 8.33, 0.8, 2.3, 13), (0.45, 1.87, 0.6, 1.3, 8), (0.48, 3.60, 0.7, 1.5, 12),
    (0.51, 6.11, 0.6, 2.0, 3), (0.54, 6.40, 0.7, 2.1, 4), (0.55, 0.49, 0.6, 1.0, 13),
    (0.59, 7.16, 0.75, 2.2, 2), (0.61, 4.83, 0.6, 1.7, 12), (0.64, 5.42, 0.7, 1.8, 11),
    (0.66, 0.59, 0.55, 1.0, 13), (0.68, 5.52, 0.6, 1.9, 12), (0.70, 2.27, 0.7, 1.3, 9),
    (0.73, 5.27, 0.6, 1.8, 13), (0.76, 4.83, 0.7, 1.7, 10), (0.80, 0.89, 0.6, 1.0, 12),
    (0.82, 5.47, 0.7, 1.9, 11), (0.84, 2.07, 0.6, 1.3, 8), (0.89, 5.02, 0.7, 1.8, 13),
    (0.91, 3.25, 0.6, 1.5, 12), (0.93, 6.50, 0.75, 2.1, 3), (0.95, 0.49, 0.55, 1.0, 11),
    (0.96, 5.76, 0.7, 1.9, 12), (0.99, 5.42, 0.6, 1.8, 13), (1.01, 7.54, 0.8, 2.2, 13),
    (1.02, 1.77, 0.6, 1.2, 10), (1.05, 4.83, 0.7, 1.7, 12), (1.07, 4.14, 0.6, 1.6, 9),
    (1.08, 5.83, 0.7, 1.9, 2), (1.09, 1.18, 0.6, 1.1, 11), (1.11, 4.93, 0.65, 1.7, 12),
    (1.14, 2.66, 0.6, 1.4, 10), (1.16, 4.14, 0.7, 1.6, 12), (1.18, 4.63, 0.6, 1.7, 5),
    (1.19, 1.87, 0.7, 1.2, 12), (1.20, 3.50, 0.6, 1.5, 11), (1.23, 1.13, 0.6, 1.0, 10),
    (1.25, 4.93, 0.7, 1.7, 11), (1.27, 3.15, 0.6, 1.5, 12), (1.30, 4.09, 0.7, 1.6, 9),
    (1.32, 2.27, 0.6, 1.3, 8), (1.34, 4.93, 0.7, 1.8, 14), (1.36, 1.38, 0.6, 1.1, 3),
    (1.41, 2.76, 0.6, 1.4, 2), (1.43, 0.89, 0.55, 1.0, 3), (1.45, 4.24, 0.7, 1.6, 4),
    (1.49, 3.15, 0.6, 1.5, 3), (1.51, 4.38, 0.7, 1.6, 2), (1.52, 1.97, 0.6, 1.3, 4),
    (1.57, 1.53, 0.6, 1.2, 2), (1.58, 4.19, 0.7, 1.6, 3), (1.60, 3.15, 0.6, 1.5, 2),
    (1.63, 1.82, 0.6, 1.2, 1), (1.66, 2.22, 0.7, 1.3, 9),
    (-0.60, 3.0, 0.6, 1.4, 10), (-0.50, 2.2, 0.7, 1.3, 6), (-0.40, 3.9, 0.6, 1.5, 12),
    (-0.30, 1.5, 0.6, 1.2, 4), (-0.20, 2.9, 0.7, 1.4, 9), (-0.10, 3.8, 0.6, 1.5, 11),
    (0.00, 2.3, 0.7, 1.3, 7), (0.10, 3.3, 0.6, 1.5, 12), (0.20, 1.9, 0.6, 1.2, 5),
    (0.30, 4.1, 0.7, 1.6, 10), (0.40, 2.6, 0.6, 1.4, 8), (0.50, 3.4, 0.7, 1.5, 13),
    (0.60, 1.7, 0.6, 1.2, 6), (0.70, 3.9, 0.7, 1.6, 11), (0.80, 2.5, 0.6, 1.4, 4),
    (0.90, 4.4, 0.7, 1.7, 12), (1.00, 3.0, 0.6, 1.5, 7), (1.10, 2.2, 0.6, 1.3, 9),
    (1.20, 3.7, 0.7, 1.6, 3), (-0.55, 4.1, 0.6, 1.6, 12), (-0.45, 1.2, 0.6, 1.1, 8),
    (-0.35, 2.6, 0.7, 1.4, 11), (-0.25, 4.4, 0.6, 1.7, 6), (-0.15, 1.1, 0.6, 1.1, 10),
    (-0.05, 2.8, 0.7, 1.4, 13), (0.05, 4.5, 0.6, 1.7, 9), (0.15, 1.3, 0.6, 1.1, 12),
    (0.25, 3.0, 0.7, 1.5, 4), (0.35, 4.6, 0.6, 1.7, 11), (0.45, 2.2, 0.7, 1.3, 7),
    (0.55, 4.0, 0.6, 1.6, 12), (0.65, 1.2, 0.6, 1.1, 5), (0.75, 3.3, 0.7, 1.5, 10),
    (0.85, 1.6, 0.6, 1.2, 13), (0.95, 3.6, 0.7, 1.5, 6), (1.05, 2.6, 0.6, 1.4, 11),
    (1.15, 1.5, 0.6, 1.2, 8), (1.25, 2.4, 0.7, 1.3, 12), (-0.65, 2.0, 0.6, 1.3, 9),
    (-0.75, 3.1, 0.7, 1.5, 12), (0.00, 1.2, 0.6, 1.1, 10), (0.20, 2.5, 0.7, 1.4, 13),
    (0.40, 3.8, 0.6, 1.6, 6), (0.60, 2.8, 0.7, 1.4, 12), (0.80, 4.0, 0.6, 1.6, 9),
    (1.00, 1.3, 0.6, 1.1, 12), (-0.20, 3.5, 0.7, 1.5, 11), (0.30, 1.5, 0.6, 1.2, 8),
    (0.70, 2.0, 0.7, 1.3, 10), (0.90, 2.9, 0.6, 1.4, 5),
    (-0.95, 3.6, 0.6, 1.5, 9), (-0.90, 2.0, 0.7, 1.3, 12), (-0.80, 1.2, 0.6, 1.1, 7),
    (-0.70, 4.0, 0.7, 1.6, 11), (-0.60, 3.6, 0.6, 1.5, 13), (-0.55, 1.6, 0.7, 1.2, 4),
    (-0.50, 4.6, 0.6, 1.7, 10), (-0.45, 2.9, 0.7, 1.4, 12), (-0.40, 1.0, 0.6, 1.0, 9),
    (-0.35, 3.3, 0.6, 1.5, 6), (-0.30, 4.2, 0.7, 1.6, 13), (-0.25, 2.3, 0.6, 1.3, 10),
    (-0.15, 3.1, 0.7, 1.5, 12), (-0.10, 1.9, 0.6, 1.2, 8), (-0.05, 4.1, 0.7, 1.6, 11),
    (0.05, 2.6, 0.6, 1.4, 12), (0.10, 1.6, 0.7, 1.2, 9), (0.15, 3.9, 0.6, 1.5, 13),
    (0.20, 4.7, 0.7, 1.7, 11), (0.25, 2.1, 0.6, 1.3, 6), (0.30, 3.6, 0.7, 1.5, 12),
    (0.35, 1.1, 0.6, 1.1, 10), (0.40, 4.4, 0.7, 1.7, 13), (0.45, 3.0, 0.6, 1.4, 9),
    (0.50, 1.4, 0.7, 1.2, 12), (0.55, 2.5, 0.6, 1.3, 7), (0.60, 3.5, 0.7, 1.5, 11),
    (0.65, 4.5, 0.6, 1.7, 13), (0.70, 1.5, 0.7, 1.2, 8), (0.75, 2.8, 0.6, 1.4, 12),
    (0.80, 3.6, 0.7, 1.5, 10), (0.85, 4.6, 0.6, 1.7, 12), (0.90, 1.9, 0.7, 1.2, 6),
    (0.95, 2.4, 0.6, 1.3, 11), (1.00, 4.2, 0.7, 1.6, 13), (1.05, 3.4, 0.6, 1.5, 9),
    (1.10, 1.0, 0.7, 1.0, 12), (1.15, 2.9, 0.6, 1.4, 10), (1.20, 4.4, 0.7, 1.7, 7),
    (1.25, 1.7, 0.6, 1.2, 12), (1.30, 3.0, 0.7, 1.4, 11), (1.35, 2.1, 0.6, 1.3, 13),
    (1.40, 3.7, 0.7, 1.5, 4), (-1.00, 3.3, 0.6, 1.5, 12), (-0.85, 2.6, 0.7, 1.4, 10),
    (-1.05, 1.8, 0.6, 1.2, 13), (0.00, 3.4, 0.7, 1.5, 12), (0.50, 2.0, 0.6, 1.3, 10),
    (0.10, 4.1, 0.7, 1.6, 9), (0.65, 3.1, 0.6, 1.4, 13), (-0.60, 1.1, 0.7, 1.1, 11),
    (0.90, 3.8, 0.6, 1.5, 8), (1.10, 3.8, 0.7, 1.5, 12), (-0.20, 0.9, 0.6, 1.0, 10),
    (0.35, 2.8, 0.7, 1.4, 12), (0.85, 0.8, 0.6, 1.0, 9), (-0.75, 4.3, 0.7, 1.6, 13),
    (1.30, 1.4, 0.6, 1.1, 6), (0.20, 3.4, 0.7, 1.5, 11), (-0.35, 4.8, 0.6, 1.7, 12),
]
e_fit_x = [-2.68, 2.54]
e_fit_y = [1.92, 2.91]

# F: posterior densities of the effect on reward sensitivity
f_cats = ['future', 'current', 'past']
f_dens_x = {
    'past': [-0.076, -0.021, 0.0, 0.021, 0.041, 0.062, 0.079, 0.094, 0.11, 0.134, 0.152, 0.172, 0.193, 0.221, 0.297],
    'current': [-0.09, -0.021, 0.021, 0.048, 0.076, 0.11, 0.138, 0.166, 0.193, 0.228, 0.255, 0.29, 0.324, 0.359, 0.428, 0.56],
    'future': [-0.131, -0.09, -0.062, -0.034, -0.014, 0.007, 0.021, 0.034, 0.055, 0.076, 0.097, 0.117, 0.145, 0.186, 0.262],
}
f_dens_h = {
    'past': [0, 0.04, 0.1, 0.21, 0.41, 0.64, 0.84, 0.9, 0.84, 0.68, 0.5, 0.27, 0.13, 0.04, 0],
    'current': [0, 0.014, 0.08, 0.16, 0.24, 0.33, 0.48, 0.54, 0.51, 0.42, 0.31, 0.18, 0.09, 0.04, 0.008, 0],
    'future': [0, 0.02, 0.085, 0.255, 0.43, 0.68, 0.82, 0.85, 0.78, 0.58, 0.37, 0.21, 0.085, 0.02, 0],
}
f_median = {'past': 0.098, 'current': 0.183, 'future': 0.042}
f_low = {'past': 0.022, 'current': 0.062, 'future': -0.037}
f_high = {'past': 0.175, 'current': 0.32, 'future': 0.12}
f_fill = {'past': '#F0D6E3', 'current': '#E7C8D6', 'future': '#FCE4F1'}
f_stars = {'past': '**', 'current': '***'}

# ---------------- figure ----------------
W, H = 981, 1561
fig = plt.figure(figsize=(W / 100, H / 100), dpi=100)
TICK = 16
TITLE = 20


def ax_px(left, top, right, bottom):
    return fig.add_axes([left / W, 1 - bottom / H, (right - left) / W, (bottom - top) / H])


def classic(ax, left=True, xpad=1.0, ypad=5.0):
    ax.spines['top'].set_visible(False)
    ax.spines['right'].set_visible(False)
    ax.spines['left'].set_visible(left)
    for s in ['left', 'bottom']:
        ax.spines[s].set_linewidth(1.4)
    ax.tick_params(length=4, width=1, color='#333333', labelcolor='#4D4D4D', labelsize=TICK)
    ax.tick_params(axis='x', pad=xpad)
    ax.tick_params(axis='y', pad=ypad)
    if not left:
        ax.tick_params(axis='y', left=False, labelleft=False)


def letter(x, y, s):
    fig.text(x / W, 1 - y / H, s, fontsize=20, va='top', ha='left')


def band(ax, fit, color, band_color, band_alpha, lw):
    fx, fy, hw = map(np.array, fit)
    ax.fill_between(fx, fy - hw, fy + hw, color=band_color, alpha=band_alpha, lw=0, zorder=2)
    ax.plot(fx, fy, color=color, lw=lw, zorder=3)


ylab = 'Effortful choice (mean %)'

# A
axA = ax_px(96, 32.7, 318.3, 455)
classic(axA)
ax_x = np.concatenate([[x] * len(v) for x, v in zip(a_trait, a_choice)])
ax_y = np.concatenate(a_choice)
axA.scatter(ax_x, ax_y, s=14, color='black', alpha=0.33, lw=0, zorder=1)
band(axA, a_fit, 'black', '#999999', 0.3, 1.3)
axA.set_xlim(-1.96, 2.67)
axA.set_ylim(-31.35, 43.2)
axA.set_xticks([-1, 0, 1, 2])
axA.set_yticks([-20, 0, 20, 40])
axA.set_xlabel('Trait-apathy', fontsize=TITLE, labelpad=10)
axA.set_ylabel(ylab, fontsize=TITLE, labelpad=4)
axA.text(0.25, 35.5, '*', fontsize=26, ha='center', va='baseline')
letter(11, 8, 'A')

# B and C
for left, right, xlim, pts, fit, xl, star, lab in [
        (426.7, 649.3, (-2.735, 2.72), b_points, b_fit, 'State motivation', '**', 'B'),
        (756.7, 985, (-2.76, 2.84), c_points, c_fit, 'State fatigue', 'n.s.', 'C')]:
    ax = ax_px(left, 32.7, right, 455)
    classic(ax)
    px = np.repeat([p[0] for p in pts], [p[2] for p in pts])
    py = np.repeat([p[1] for p in pts], [p[2] for p in pts])
    ax.scatter(px, py, s=14, color='black', alpha=0.33, lw=0, zorder=1)
    band(ax, fit, 'black', '#999999', 0.3, 1.3)
    ax.set_xlim(*xlim)
    ax.set_ylim(-31.35, 43.2)
    ax.set_xticks([-2, -1, 0, 1, 2])
    ax.set_yticks([-20, 0, 20, 40])
    ax.set_xlabel(xl, fontsize=TITLE, labelpad=10)
    ax.set_ylabel(ylab, fontsize=TITLE, labelpad=4)
    if star == 'n.s.':
        ax.text(0.02, 36.5, star, fontsize=16, ha='center', va='baseline')
    else:
        ax.text(0.0, 35.5, star, fontsize=26, ha='center', va='baseline')
    letter(left - 83, 8, lab)

# D
facet_left = [96, 324, 552, 779]
for i, (fl, grp, col, lab, fit) in enumerate(zip(facet_left, d_groups, d_colors, d_labels, d_fits)):
    ax = ax_px(fl, 628, fl + 211, 975)
    classic(ax, left=(i == 0), xpad=5.5)
    for person in grp:
        person = sorted(person)
        xs = [p[0] for p in person]
        ys = [p[1] for p in person]
        ax.plot(xs, ys, '-o', color=col, lw=0.8, ms=2.2, zorder=1)
    band(ax, fit, col, col, 0.3, 1.7)
    ax.set_xlim(-2.73, 2.73)
    ax.set_ylim(-23.0, 42.9)
    ax.set_xticks([-2, -1, 0, 1, 2])
    ax.set_yticks([-20, 0, 20, 40])
    if i == 0:
        ax.set_ylabel(ylab, fontsize=TITLE, labelpad=4)
    sax = ax_px(fl + 1, 587, fl + 210, 625)
    sax.set_facecolor(col)
    sax.set_xticks([])
    sax.set_yticks([])
    for s in sax.spines.values():
        s.set_edgecolor('#EEEEEE')
        s.set_linewidth(1.2)
    sax.text(0.5, 0.47, lab, color='white', fontsize=16, ha='center', va='center',
             transform=sax.transAxes)
fig.text(543 / W, 1 - 579 / H, 'Level of trait apathy', fontsize=TITLE, ha='center', va='baseline')
fig.text(543 / W, 1 - 1037 / H, 'State motivation', fontsize=TITLE, ha='center', va='baseline')
letter(11, 546, 'D')

# E
day_cmap = LinearSegmentedColormap.from_list('day', ['#E4CFDA', '#C2468A'])
axE = ax_px(107, 1072, 489, 1494)
classic(axE, xpad=5, ypad=4.3)
ex = np.array([p[0] for p in e_points])
ey = np.array([p[1] for p in e_points])
exe = np.array([p[2] for p in e_points])
eye = np.array([p[3] for p in e_points])
eday = np.array([p[4] for p in e_points])
ecol = day_cmap(eday / 14)
for x, y, xe, ye, c in zip(ex, ey, exe, eye, ecol):
    axE.errorbar(x, y, xerr=xe, yerr=ye, fmt='none', ecolor=c, alpha=0.35,
                 elinewidth=0.7, capsize=1.5, capthick=0.6, zorder=1)
sc = axE.scatter(ex, ey, c=eday, cmap=day_cmap, vmin=0, vmax=14, s=34, lw=0, alpha=0.9, zorder=2)
axE.plot(e_fit_x, e_fit_y, color='#5B5A98', lw=3, zorder=3, solid_capstyle='butt')
axE.set_xlim(-2.68, 2.54)
axE.set_ylim(-1.69, 10.79)
axE.set_xticks([-2, -1, 0, 1, 2])
axE.set_yticks([0, 2.5, 5, 7.5, 10])
axE.set_yticklabels(['0.0', '2.5', '5.0', '7.5', '10.0'])
axE.set_xlabel('State motivation θ (SD)', fontsize=TITLE, labelpad=6)
axE.set_ylabel('Reward sensitivity (SD)', fontsize=TITLE, labelpad=4)
axE.text(-0.25, 9.1, '***', fontsize=28, ha='center', va='baseline')
cax = ax_px(131, 1100, 145, 1172)
cb = fig.colorbar(sc, cax=cax, ticks=[0, 7, 14])
cb.outline.set_visible(False)
cax.tick_params(length=0, labelsize=21, labelcolor='black', pad=13)
fig.text(131 / W, 1 - 1081 / H, 'Day', fontsize=21, ha='left', va='baseline')
letter(12, 1060, 'E')

# F
axF = ax_px(634, 1072, 981, 1494)
classic(axF, xpad=5, ypad=5)
for k, cat in enumerate(f_cats):
    base = k + 1
    dx = np.array(f_dens_x[cat])
    dh = np.array(f_dens_h[cat])
    axF.fill_between(dx, base, base + dh, color=f_fill[cat], lw=0, zorder=1)
    axF.hlines(base, f_low[cat], f_high[cat], color='#555555', lw=1.2, zorder=3)
    axF.scatter([f_median[cat]], [base], s=32, color='#222222', zorder=4)
    if cat in f_stars:
        axF.text(0.4, base + 0.16, f_stars[cat], fontsize=27, ha='center', va='baseline')
axF.axvline(0, color='#333333', lw=0.9, ls=(0, (3, 3)), zorder=2)
axF.set_xlim(-0.157, 0.56)
axF.set_ylim(0.4, 3.99)
axF.set_xticks([0, 0.2, 0.4])
axF.set_xticklabels(['0.0', '0.2', '0.4'])
axF.set_yticks([1, 2, 3])
axF.set_yticklabels(f_cats)
axF.set_xlabel('Effect on reward sensitivity', fontsize=TITLE, labelpad=6)
axF.set_ylabel('State motivation', fontsize=TITLE, labelpad=4)
letter(514, 1060, 'F')

fig.savefig('out.png', dpi=100)
